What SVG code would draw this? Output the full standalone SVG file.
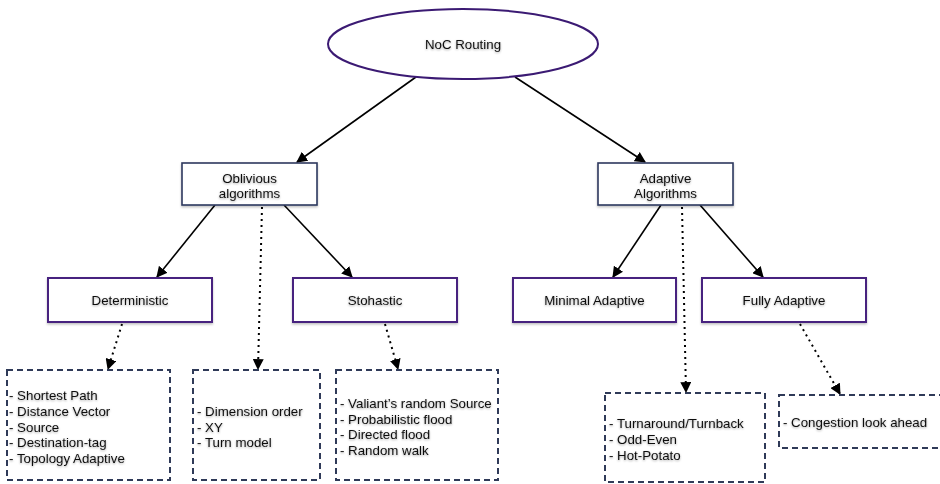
<svg xmlns="http://www.w3.org/2000/svg" width="940" height="484" viewBox="0 0 940 484">
  <defs>
    <marker id="arrow" viewBox="0 0 10 10" refX="9" refY="5" markerWidth="11" markerHeight="11" markerUnits="userSpaceOnUse" orient="auto">
      <path d="M0,0 L10,5 L0,10 z" fill="#000"/>
    </marker>
    <filter id="shadow" x="-10%" y="-10%" width="120%" height="130%">
      <feDropShadow dx="0" dy="1.5" stdDeviation="1.2" flood-color="#000" flood-opacity="0.25"/>
    </filter>
    <filter id="tshadow" x="-5%" y="-20%" width="110%" height="150%">
      <feDropShadow dx="0" dy="1" stdDeviation="0.9" flood-color="#000" flood-opacity="0.35"/>
    </filter>
  </defs>
  <style>
    text { font-family: "Liberation Sans", Arial, sans-serif; font-size: 13.3px; fill: #111; }
    .c { text-anchor: middle; }
    .t { filter: url(#tshadow); }
    .root { fill: #fff; stroke: #3b1a73; stroke-width: 2; }
    .mid { fill: #fff; stroke: #2e3a5e; stroke-width: 1.6; filter: url(#shadow); }
    .leaf { fill: #fff; stroke: #46237f; stroke-width: 2; filter: url(#shadow); }
    .list { fill: none; stroke: #2f3a58; stroke-width: 2; stroke-dasharray: 6 4; }
    .solid { stroke: #000; stroke-width: 1.6; fill: none; marker-end: url(#arrow); }
    .dot { stroke: #000; stroke-width: 2; stroke-dasharray: 2 4; fill: none; marker-end: url(#arrow); }
  </style>

  <g id="connectors">
    <line class="solid" x1="416" y1="77" x2="297" y2="162"/>
    <line class="solid" x1="515" y1="77" x2="645" y2="162"/>
    <line class="solid" x1="215" y1="205" x2="157" y2="277"/>
    <line class="solid" x1="284" y1="205" x2="352" y2="277"/>
    <line class="dot" x1="262" y1="207" x2="258" y2="369"/>
    <line class="solid" x1="661" y1="205" x2="613" y2="277"/>
    <line class="solid" x1="700" y1="205" x2="763" y2="277"/>
    <line class="dot" x1="682" y1="207" x2="686" y2="392"/>
    <line class="dot" x1="122" y1="324" x2="108" y2="369"/>
    <line class="dot" x1="385" y1="324" x2="398" y2="369"/>
    <line class="dot" x1="800" y1="324" x2="840" y2="394"/>
  </g>

  <g id="noc-routing">
    <ellipse class="root" cx="463" cy="44" rx="135" ry="35"/>
    <text class="c t" x="463" y="49">NoC Routing</text>
  </g>

  <g id="oblivious">
    <rect class="mid" x="182" y="163" width="135" height="42"/>
    <text class="c t" x="249.5" y="183">Oblivious</text>
    <text class="c t" x="249.5" y="198">algorithms</text>
  </g>

  <g id="adaptive">
    <rect class="mid" x="598" y="163" width="135" height="42"/>
    <text class="c t" x="665.5" y="183">Adaptive</text>
    <text class="c t" x="665.5" y="198">Algorithms</text>
  </g>

  <g id="deterministic">
    <rect class="leaf" x="48" y="278" width="164" height="44"/>
    <text class="c t" x="130" y="305">Deterministic</text>
  </g>

  <g id="stohastic">
    <rect class="leaf" x="293" y="278" width="164" height="44"/>
    <text class="c t" x="375" y="305">Stohastic</text>
  </g>

  <g id="minimal-adaptive">
    <rect class="leaf" x="513" y="278" width="163" height="44"/>
    <text class="c t" x="594.5" y="305">Minimal Adaptive</text>
  </g>

  <g id="fully-adaptive">
    <rect class="leaf" x="702" y="278" width="164" height="44"/>
    <text class="c t" x="784" y="305">Fully Adaptive</text>
  </g>

  <g id="deterministic-list">
    <rect class="list" x="7" y="370" width="163" height="110"/>
    <text class="t" x="9" y="400">- Shortest Path</text>
    <text class="t" x="9" y="416">- Distance Vector</text>
    <text class="t" x="9" y="432">- Source</text>
    <text class="t" x="9" y="447">- Destination-tag</text>
    <text class="t" x="9" y="463">- Topology Adaptive</text>
  </g>

  <g id="oblivious-list">
    <rect class="list" x="193" y="370" width="127" height="110"/>
    <text class="t" x="197" y="416">- Dimension order</text>
    <text class="t" x="197" y="432">- XY</text>
    <text class="t" x="197" y="447">- Turn model</text>
  </g>

  <g id="stohastic-list">
    <rect class="list" x="336" y="370" width="162" height="110"/>
    <text class="t" x="340" y="408">- Valiant’s random Source</text>
    <text class="t" x="340" y="424">- Probabilistic flood</text>
    <text class="t" x="340" y="439">- Directed flood</text>
    <text class="t" x="340" y="455">- Random walk</text>
  </g>

  <g id="adaptive-list">
    <rect class="list" x="605" y="393" width="160" height="89"/>
    <text class="t" x="609" y="428">- Turnaround/Turnback</text>
    <text class="t" x="609" y="444">- Odd-Even</text>
    <text class="t" x="609" y="460">- Hot-Potato</text>
  </g>

  <g id="fully-adaptive-list">
    <rect class="list" x="779" y="395" width="163" height="53"/>
    <text class="t" x="783" y="427">- Congestion look ahead</text>
  </g>
</svg>
